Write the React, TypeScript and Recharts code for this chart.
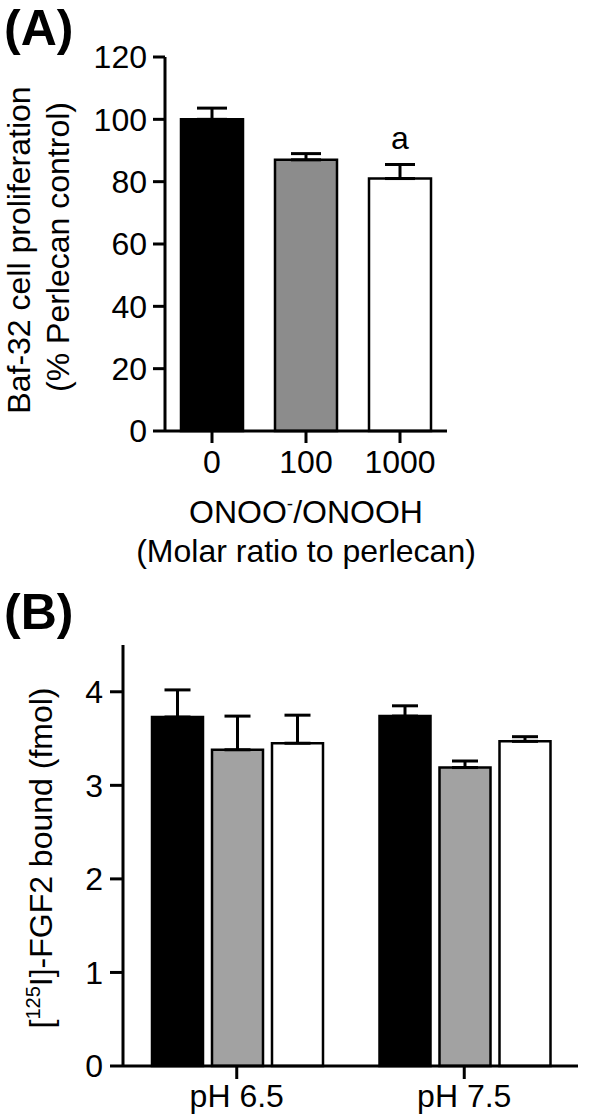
import { BarChart, Bar, XAxis, YAxis, ErrorBar, Cell, LabelList } from 'recharts';

// panel A: Baf-32 proliferation vs ONOO-/ONOOH molar ratio
const doseLabels = ['0', '100', '1000'];
const proliferation = [100, 87, 81];
const proliferationErr = [3.6, 2, 4.5];
const sigLetters = ['', '', 'a'];
const proliferationTicks = [0, 20, 40, 60, 80, 100, 120];

// panel B: [125I]-FGF2 bound at two pH values
const phLabels = ['pH 6.5', 'pH 7.5'];
const boundRatio0 = [3.73, 3.74];
const boundRatio0Err = [0.29, 0.11];
const boundRatio100 = [3.38, 3.19];
const boundRatio100Err = [0.36, 0.07];
const boundRatio1000 = [3.45, 3.47];
const boundRatio1000Err = [0.3, 0.05];
const boundTicks = [0, 1, 2, 3, 4];

const FONT = '"Liberation Sans", Arial, Helvetica, sans-serif';
const fillsA = ['#000000', '#8c8c8c', '#ffffff'];

const dataA = doseLabels.map((dose, i) => ({
  dose,
  value: proliferation[i],
  err: [0, proliferationErr[i]],
  sig: sigLetters[i],
}));

const dataB = phLabels.map((ph, i) => ({
  ph,
  r0: boundRatio0[i],
  r0Err: [0, boundRatio0Err[i]],
  r100: boundRatio100[i],
  r100Err: [0, boundRatio100Err[i]],
  r1000: boundRatio1000[i],
  r1000Err: [0, boundRatio1000Err[i]],
}));

const axisLine = { stroke: '#000', strokeWidth: 3 };
const tickStyle = { fill: '#000', fontSize: 32, fontFamily: FONT };

export default function App() {
  return (
    <div style={{ position: 'absolute', left: 0, top: 0, width: 594, height: 1119, background: '#fff', fontFamily: FONT }}>
      <div style={{ position: 'absolute', left: 0, top: 0 }}>
        <BarChart width={594} height={490} data={dataA} margin={{ top: 57, right: 147, left: 0, bottom: 0 }} barCategoryGap={16}>
          <XAxis
            dataKey="dose"
            height={59}
            axisLine={axisLine}
            tickLine={axisLine}
            tickSize={12}
            tickMargin={7}
            tick={tickStyle}
          />
          <YAxis
            width={165}
            domain={[0, 120]}
            ticks={proliferationTicks}
            axisLine={axisLine}
            tickLine={axisLine}
            tickSize={12}
            tickMargin={6}
            tick={tickStyle}
            interval={0}
          />
          <Bar dataKey="value" stroke="#000" strokeWidth={2.5} isAnimationActive={false}>
            {dataA.map((d, i) => (
              <Cell key={d.dose} fill={fillsA[i]} />
            ))}
            <ErrorBar dataKey="err" width={15} stroke="#000" strokeWidth={3} direction="y" />
            <LabelList dataKey="sig" position="top" offset={30} fill="#000" fontSize={32} fontFamily={FONT} />
          </Bar>
        </BarChart>
      </div>

      <div style={{ position: 'absolute', left: 0, top: 600 }}>
        <BarChart width={594} height={519} data={dataB} margin={{ top: 45, right: 16, left: 0, bottom: 0 }} barCategoryGap={29} barGap={9}>
          <XAxis
            dataKey="ph"
            height={53}
            axisLine={axisLine}
            tickLine={axisLine}
            tickSize={13}
            tickMargin={5}
            tick={tickStyle}
          />
          <YAxis
            width={123}
            domain={[0, 4.5]}
            ticks={boundTicks}
            axisLine={axisLine}
            tickLine={axisLine}
            tickSize={13}
            tickMargin={7}
            tick={tickStyle}
            interval={0}
          />
          <Bar dataKey="r0" fill="#000000" stroke="#000" strokeWidth={2.5} isAnimationActive={false}>
            <ErrorBar dataKey="r0Err" width={13} stroke="#000" strokeWidth={3} direction="y" />
          </Bar>
          <Bar dataKey="r100" fill="#a2a2a2" stroke="#000" strokeWidth={2.5} isAnimationActive={false}>
            <ErrorBar dataKey="r100Err" width={13} stroke="#000" strokeWidth={3} direction="y" />
          </Bar>
          <Bar dataKey="r1000" fill="#ffffff" stroke="#000" strokeWidth={2.5} isAnimationActive={false}>
            <ErrorBar dataKey="r1000Err" width={13} stroke="#000" strokeWidth={3} direction="y" />
          </Bar>
        </BarChart>
      </div>

      <svg width={594} height={1119} style={{ position: 'absolute', left: 0, top: 0, pointerEvents: 'none' }} fontFamily={FONT} fill="#000">
        <text x={4} y={45} fontSize={50} fontWeight="bold">(A)</text>
        <text x={4} y={629} fontSize={50} fontWeight="bold">(B)</text>

        <text x={30} y={250} fontSize={32} textAnchor="middle" transform="rotate(-90 30 250)">Baf-32 cell proliferation</text>
        <text x={69} y={247} fontSize={32} textAnchor="middle" transform="rotate(-90 69 247)">(% Perlecan control)</text>

        <text x={306} y={523} fontSize={32} textAnchor="middle">
          <tspan>ONOO</tspan>
          <tspan fontSize={19} dy={-13}>-</tspan>
          <tspan dy={13}>/ONOOH</tspan>
        </text>
        <text x={306} y={562} fontSize={32} textAnchor="middle">(Molar ratio to perlecan)</text>

        <text x={52} y={858} fontSize={32} textAnchor="middle" transform="rotate(-90 52 858)">
          <tspan>[</tspan>
          <tspan fontSize={20} dy={-12}>125</tspan>
          <tspan dy={12}>I]-FGF2 bound (fmol)</tspan>
        </text>
      </svg>
    </div>
  );
}
